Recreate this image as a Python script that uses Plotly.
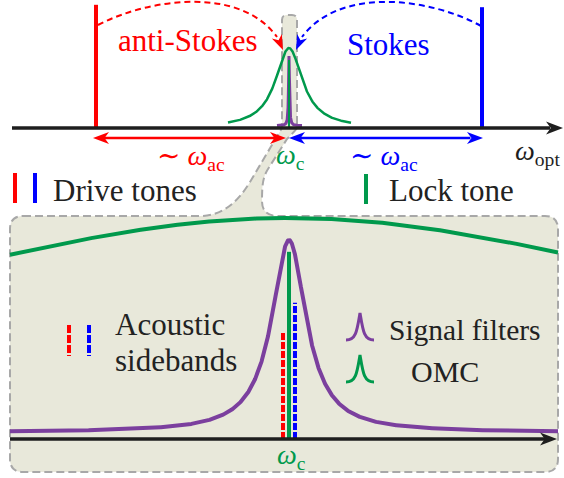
import numpy as np
import plotly.graph_objects as go

W, H = 564, 478

# ---------------- data (frequencies in units of the acoustic frequency ω_ac) ----------------
drive_freqs = [-1.0, 1.0]          # anti-Stokes / Stokes drive tones
drive_heights = [1.54, 1.51]
drive_colors = ["#ff0000", "#0000ff"]
lock_freq = 0.0                     # lock tone at ω_c
lock_height_top = 0.85
lock_height_bottom = 0.847
omc_gamma = 0.0855                  # OMC half-width
omc_amp = 1.0
sig_gamma = 0.00287                 # signal-filter half-width
sig_amp = 0.87
sig_offset = 0.03
sideband_freqs = [-0.00082, 0.00082]
sideband_heights = [0.486, 0.617]
sideband_colors = ["#ff0000", "#0000ff"]

GREEN = "#00994c"
PURPLE = "#7b3f9e"
BLACK = "#1e1e1e"
FILL = "#e8e8da"
EDGE = "#a8a8a8"
FONT = "'Liberation Serif', 'DejaVu Serif', serif"

# ---------------- scales of the two panels ----------------
TOP_XPX, TOP_CX, TOP_Y0, TOP_YPX = 193.0, 289.0, 128.0, 80.0
BOT_XPX, BOT_CX, BOT_Y0, BOT_YPX = 7310.0, 289.0, 439.0, 221.0
OMC_GAMMA_BOT = 0.0855 * (625.0 / 16.5) * TOP_XPX / BOT_XPX  # same OMC seen on the zoomed scale


def tx(px):
    return (px - TOP_CX) / TOP_XPX


def bx(px):
    return (px - BOT_CX) / BOT_XPX


def lorentz(f, amp, gamma, offset=0.0):
    return offset + amp / (1.0 + (f / gamma) ** 2)


fig = go.Figure()

# ---------------- top panel ----------------
f_omc_top = np.linspace(tx(228), tx(351), 500)
fig.add_trace(go.Scatter(x=f_omc_top, y=lorentz(f_omc_top, omc_amp, omc_gamma),
                         mode="lines", line=dict(color=GREEN, width=2.5),
                         xaxis="x", yaxis="y", hoverinfo="skip"))
f_sig_top = np.linspace(tx(277), tx(302), 2001)
fig.add_trace(go.Scatter(x=f_sig_top, y=lorentz(f_sig_top, sig_amp, sig_gamma, sig_offset),
                         mode="lines", line=dict(color=PURPLE, width=3),
                         xaxis="x", yaxis="y", hoverinfo="skip"))
fig.add_trace(go.Scatter(x=[lock_freq, lock_freq], y=[0, lock_height_top], mode="lines",
                         line=dict(color=GREEN, width=2), xaxis="x", yaxis="y", hoverinfo="skip"))
for f, h, c in zip(drive_freqs, drive_heights, drive_colors):
    fig.add_trace(go.Scatter(x=[f, f], y=[0, h], mode="lines", line=dict(color=c, width=4),
                             xaxis="x", yaxis="y", hoverinfo="skip"))
# frequency axis
fig.add_trace(go.Scatter(x=[tx(12), tx(550)], y=[0, 0], mode="lines",
                         line=dict(color=BLACK, width=3.5), xaxis="x", yaxis="y", hoverinfo="skip"))
# ~ω_ac double arrows
arr_y = -10 / TOP_YPX
fig.add_trace(go.Scatter(x=[drive_freqs[0] + 0.03, lock_freq - 0.06], y=[arr_y, arr_y], mode="lines",
                         line=dict(color=drive_colors[0], width=2.5), xaxis="x", yaxis="y", hoverinfo="skip"))
fig.add_trace(go.Scatter(x=[lock_freq + 0.03, drive_freqs[1] - 0.06], y=[arr_y, arr_y], mode="lines",
                         line=dict(color=drive_colors[1], width=2.5), xaxis="x", yaxis="y", hoverinfo="skip"))

# ---------------- bottom (zoomed) panel ----------------
f_bot = np.linspace(bx(10), bx(558), 3000)
fig.add_trace(go.Scatter(x=f_bot, y=lorentz(f_bot, omc_amp, OMC_GAMMA_BOT),
                         mode="lines", line=dict(color=GREEN, width=4),
                         xaxis="x2", yaxis="y2", hoverinfo="skip"))
fig.add_trace(go.Scatter(x=f_bot, y=lorentz(f_bot, sig_amp, sig_gamma, sig_offset),
                         mode="lines", line=dict(color=PURPLE, width=4),
                         xaxis="x2", yaxis="y2", hoverinfo="skip"))
fig.add_trace(go.Scatter(x=[lock_freq, lock_freq], y=[0, lock_height_bottom], mode="lines",
                         line=dict(color=GREEN, width=4), xaxis="x2", yaxis="y2", hoverinfo="skip"))
for f, h, c in zip(sideband_freqs, sideband_heights, sideband_colors):
    fig.add_trace(go.Scatter(x=[f, f], y=[0, h], mode="lines",
                             line=dict(color=c, width=4, dash="7px,2px"),
                             xaxis="x2", yaxis="y2", hoverinfo="skip"))
fig.add_trace(go.Scatter(x=[bx(10), bx(545)], y=[0, 0], mode="lines",
                         line=dict(color=BLACK, width=3.5), xaxis="x2", yaxis="y2", hoverinfo="skip"))


# ---------------- helpers for decorations (pixel -> paper) ----------------
def PX(x):
    return x / W


def PY(y):
    return 1 - y / H


def ppath(s):
    out = []
    for tok in s.split():
        if "," in tok:
            a, b = tok.split(",")
            out.append(f"{PX(float(a)):.5f},{PY(float(b)):.5f}")
        else:
            out.append(tok)
    return " ".join(out)


shapes = []

# zoom funnel + bottom box
funnel = ("M 23,216 L 200,216 C 222,216 238,202 250,182 L 282,128 L 282,20 Q 282,15 287,15 "
          "L 292,15 Q 297,15 297,20 L 297,128 C 293,133 290,136 287,139 L 268,169 "
          "C 263,177 262,184 262,201 Q 262,216 278,216 L 545,216 Q 558,216 558,229 "
          "L 558,459 Q 558,472 545,472 L 23,472 Q 10,472 10,459 L 10,229 Q 10,216 23,216 Z")
shapes.append(dict(type="path", xref="paper", yref="paper", path=ppath(funnel),
                   fillcolor=FILL, line=dict(color=EDGE, width=2, dash="8px,4px"), layer="below"))

# dashed curved arrows
shapes.append(dict(type="path", xref="paper", yref="paper",
                   path=ppath("M 98,25 C 150,-2 240,-14 277,37"),
                   line=dict(color="#ff0000", width=2, dash="6px,4px")))
shapes.append(dict(type="path", xref="paper", yref="paper",
                   path=ppath("M 481,26 C 430,-2 340,-14 302,37"),
                   line=dict(color="#0000ff", width=2, dash="6px,4px")))


def head(tip, d, L, Wd, color):
    d = np.array(d, float)
    u = d / np.linalg.norm(d)
    n = np.array([-u[1], u[0]])
    t = np.array(tip, float)
    base = t - u * L
    p1 = base + n * Wd / 2
    p2 = base - n * Wd / 2
    notch = t - u * L * 0.72
    s = (f"M {t[0]},{t[1]} L {p1[0]},{p1[1]} L {notch[0]},{notch[1]} "
         f"L {p2[0]},{p2[1]} Z")
    return dict(type="path", xref="paper", yref="paper", path=ppath(s),
                fillcolor=color, line=dict(width=0))


shapes.append(head((283, 50), (0.45, 1), 15, 11, "#ff0000"))
shapes.append(head((296, 50), (-0.45, 1), 15, 11, "#0000ff"))
shapes.append(head((563, 128), (1, 0), 17, 13, BLACK))
shapes.append(head((557, 439), (1, 0), 17, 13, BLACK))
shapes.append(head((93, 138), (-1, 0), 16, 12, "#ff0000"))
shapes.append(head((286, 138), (1, 0), 16, 12, "#ff0000"))
shapes.append(head((289, 138), (-1, 0), 16, 12, "#0000ff"))
shapes.append(head((483, 138), (1, 0), 16, 12, "#0000ff"))


# legend glyphs
def vline(x, y0, y1, color, width, dash=None):
    ln = dict(color=color, width=width)
    if dash:
        ln["dash"] = dash
    return dict(type="line", xref="paper", yref="paper", x0=PX(x), x1=PX(x),
                y0=PY(y0), y1=PY(y1), line=ln)


shapes.append(vline(15, 173, 203, "#ff0000", 4))
shapes.append(vline(35, 173, 203, "#0000ff", 4))
shapes.append(vline(366, 174, 204, GREEN, 4))
shapes.append(vline(69, 325, 356, "#ff0000", 4, "8px,2px"))
shapes.append(vline(89, 325, 356, "#0000ff", 4, "8px,2px"))
shapes.append(dict(type="path", xref="paper", yref="paper",
                   path=ppath("M 346,340 C 356,340 357,331 360,313 C 363,331 364,340 374,340"),
                   line=dict(color=PURPLE, width=3)))
shapes.append(dict(type="path", xref="paper", yref="paper",
                   path=ppath("M 346,382 C 356,382 357,373 360,355 C 363,373 364,382 374,382"),
                   line=dict(color=GREEN, width=3)))

# ---------------- text ----------------
annotations = []


def ann(text, x, y, color="#222222", size=31, xanchor="center"):
    annotations.append(dict(text=text, x=PX(x), y=PY(y), xref="paper", yref="paper",
                            showarrow=False, xanchor=xanchor, yanchor="middle",
                            font=dict(family=FONT, size=size, color=color)))


ann("anti-Stokes", 188, 41, "#ff0000")
ann("Stokes", 388, 44, "#0000ff")
ann("∼ <i>ω</i><sub>ac</sub>", 191, 157, "#ff0000", 28)
ann("∼ <i>ω</i><sub>ac</sub>", 384, 157, "#0000ff", 28)
ann("<i>ω</i><sub>c</sub>", 290, 156, GREEN, 28)
ann("<i>ω</i><sub>opt</sub>", 537, 153, BLACK, 28)
ann("Drive tones", 51, 191)
annotations[-1]["xanchor"] = "left"
ann("Lock tone", 387, 191, xanchor="left")
ann("Acoustic", 113, 324, xanchor="left")
ann("sidebands", 113, 360, xanchor="left")
ann("Signal filters", 387, 330, size=29.5, xanchor="left")
ann("OMC", 409, 371, size=30, xanchor="left")
ann("<i>ω</i><sub>c</sub>", 291, 456, GREEN, 28)

ax_common = dict(visible=False, showgrid=False, zeroline=False, fixedrange=True)
fig.update_layout(
    width=W, height=H, margin=dict(l=0, r=0, t=0, b=0),
    font=dict(family=FONT),
    paper_bgcolor="white", plot_bgcolor="rgba(0,0,0,0)", showlegend=False,
    xaxis=dict(domain=[0, 1], range=[tx(0), tx(W)], anchor="y", **ax_common),
    yaxis=dict(domain=[0, 1], range=[(TOP_Y0 - H) / TOP_YPX, TOP_Y0 / TOP_YPX], anchor="x", **ax_common),
    xaxis2=dict(domain=[0, 1], range=[bx(0), bx(W)], anchor="y2", **ax_common),
    yaxis2=dict(domain=[0, 1], range=[(BOT_Y0 - H) / BOT_YPX, BOT_Y0 / BOT_YPX], anchor="x2", **ax_common),
    shapes=shapes, annotations=annotations,
)

fig.write_html("out.html")
